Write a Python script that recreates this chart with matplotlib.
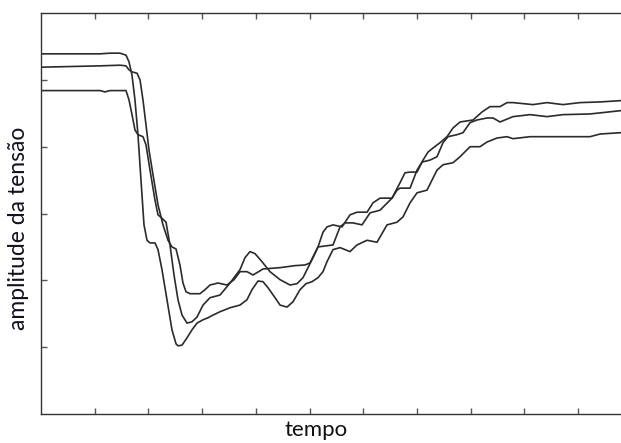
import numpy as np
import matplotlib.pyplot as plt

# traces: time (tick = 10 units) and amplitude (tick = 1 unit)
t_a = [0, 11.0, 12.85, 14.71, 15.83, 16.39, 16.95, 17.50, 18.06, 18.62, 19.18, 19.74,
       20.30, 21.23, 21.79, 22.53, 23.46, 24.39, 25.14, 25.51, 26.26, 27.19, 28.12,
       29.05, 30.17, 31.10, 32.03, 33.33, 35.20, 37.06, 38.36, 39.29, 40.41, 41.34,
       42.27, 43.58, 44.51, 45.81, 46.93, 48.23, 49.35, 50.47, 51.58, 52.51, 53.26,
       54.38, 55.68, 57.54, 58.85, 60.71, 62.57, 64.43, 66.29, 67.41, 68.72, 70.02,
       71.88, 73.74, 74.86, 76.72, 78.03, 79.89, 81.75, 83.05, 84.92, 86.78, 87.89,
       91.06, 94.22, 98.51, 102.23, 104.10, 108.0]
v_a = [5.39, 5.39, 5.40, 5.40, 5.37, 5.27, 5.07, 4.70, 4.18, 3.50, 2.83, 2.60,
       2.56, 2.56, 2.46, 2.16, 1.71, 1.26, 1.05, 1.02, 1.03, 1.14, 1.26,
       1.36, 1.41, 1.44, 1.48, 1.53, 1.59, 1.63, 1.71, 1.86, 1.99, 1.98,
       1.89, 1.74, 1.63, 1.60, 1.68, 1.86, 1.95, 1.98, 2.04, 2.13, 2.28,
       2.46, 2.49, 2.43, 2.53, 2.60, 2.57, 2.83, 2.87, 2.95, 3.16, 3.31,
       3.35, 3.65, 3.73, 3.76, 3.85, 4.00, 4.00, 4.07, 4.13, 4.15, 4.12,
       4.15, 4.15, 4.15, 4.15, 4.19, 4.21]

t_b = [0, 11.0, 14.71, 15.83, 16.39, 16.95, 17.88, 18.44, 18.99, 19.55, 20.11, 20.86,
       21.79, 22.72, 23.65, 24.39, 25.14, 25.88, 26.44, 27.00, 27.75, 29.61, 30.54,
       31.47, 32.96, 34.64, 35.94, 37.06, 38.36, 39.48, 41.34, 44.51, 47.30, 49.16,
       50.09, 51.58, 54.38, 55.68, 56.61, 58.10, 59.78, 61.27, 63.13, 65.36, 66.29,
       66.85, 68.72, 70.02, 70.95, 72.44, 73.74, 74.86, 75.79, 77.47, 78.58, 79.89,
       81.19, 83.05, 84.17, 85.47, 87.89, 91.06, 94.22, 97.21, 102.23, 108.0]
v_b = [5.19, 5.21, 5.22, 5.21, 5.15, 5.12, 5.10, 5.00, 4.70, 4.33, 3.95, 3.58,
       3.13, 2.83, 2.60, 2.50, 2.47, 2.23, 1.96, 1.83, 1.80, 1.80, 1.86,
       1.93, 1.96, 1.93, 2.01, 2.13, 2.13, 2.08, 2.17, 2.19, 2.22, 2.23,
       2.26, 2.50, 2.53, 2.80, 2.86, 2.86, 2.83, 3.01, 3.05, 3.23, 3.35,
       3.38, 3.38, 3.65, 3.77, 3.80, 3.85, 4.06, 4.15, 4.18, 4.21, 4.36,
       4.40, 4.43, 4.43, 4.37, 4.45, 4.48, 4.45, 4.48, 4.49, 4.54]

t_c = [0, 11.0, 11.92, 12.85, 15.83, 16.39, 16.95, 17.50, 18.06, 18.99, 19.55, 20.30,
       21.23, 21.79, 22.53, 23.28, 24.02, 24.77, 25.51, 26.26, 27.19, 28.12, 29.05,
       30.17, 31.47, 33.33, 35.20, 37.06, 37.99, 38.92, 39.85, 41.15, 42.64, 44.51,
       46.37, 47.67, 48.79, 49.72, 50.65, 51.58, 52.51, 53.26, 54.38, 56.05, 57.54,
       58.85, 60.71, 61.82, 63.13, 65.36, 66.85, 67.78, 68.72, 70.02, 71.14, 72.07,
       72.99, 74.30, 75.60, 76.72, 78.03, 80.45, 82.12, 83.61, 85.47, 86.78, 87.89,
       91.62, 94.22, 97.21, 100.37, 104.10, 108.0]
v_c = [4.84, 4.84, 4.82, 4.84, 4.84, 4.70, 4.48, 4.25, 4.18, 4.15, 4.03, 3.65,
       3.20, 2.98, 2.93, 2.87, 2.53, 2.08, 1.71, 1.48, 1.36, 1.38, 1.45,
       1.63, 1.74, 1.78, 1.96, 2.16, 2.34, 2.43, 2.40, 2.28, 2.13, 2.01,
       1.93, 1.95, 2.04, 2.19, 2.34, 2.50, 2.72, 2.80, 2.83, 2.80, 2.98,
       3.02, 3.02, 3.16, 3.23, 3.23, 3.46, 3.61, 3.62, 3.62, 3.80, 3.92,
       3.98, 4.06, 4.15, 4.28, 4.37, 4.40, 4.52, 4.60, 4.60, 4.66, 4.66,
       4.63, 4.66, 4.63, 4.66, 4.67, 4.69]

fig = plt.figure(figsize=(6.21, 4.43), dpi=100)
ax = fig.add_axes([0.066, 0.0655, 0.934, 0.905])

for t, v in [(t_a, v_a), (t_b, v_b), (t_c, v_c)]:
    ax.plot(t, v, color="#2b2b2b", linewidth=1.2)

ax.set_xlim(0, 108)
ax.set_ylim(0, 6)
ax.set_xticks(np.arange(10, 101, 10))
ax.set_yticks(np.arange(1, 6))
ax.tick_params(direction="in", length=4, width=1, color="#555555",
               top=True, bottom=True, left=True, right=False,
               labelbottom=False, labelleft=False)
ax.spines["right"].set_visible(False)
for s in ["left", "bottom", "top"]:
    ax.spines[s].set_color("#333333")
    ax.spines[s].set_linewidth(1.0)

ax.set_xlabel("tempo", fontsize=16, family="Lato", color="#111111")
ax.xaxis.set_label_coords(0.474, -0.016)
ax.set_ylabel("amplitude da tensão", fontsize=16.5, family="Lato", color="#111122")
ax.yaxis.set_label_coords(-0.021, 0.464)

fig.savefig("out.png", dpi=100)
